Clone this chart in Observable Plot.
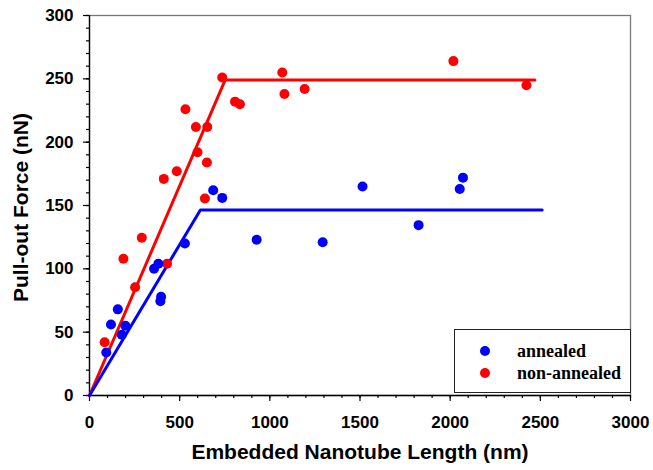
<!DOCTYPE html>
<html><head><meta charset="utf-8">
<script src="https://cdn.jsdelivr.net/npm/d3@7"></script>
<script src="https://cdn.jsdelivr.net/npm/@observablehq/plot@0.6"></script>
<style>
html,body{margin:0;padding:0;background:#fff;}
#wrap{position:relative;width:653px;height:470px;}
#legend{position:absolute;left:454px;top:329px;width:177px;height:64px;border:1px solid #222;background:#fff;box-sizing:border-box;font-family:"Liberation Serif",serif;font-weight:bold;font-size:18px;}
.row{position:absolute;left:0;display:flex;align-items:center;height:20px;line-height:20px;}
.dot{width:10px;height:10px;border-radius:50%;margin-left:25px;margin-right:27px;}
</style>
</head><body>
<div id="wrap"></div>
<script>
// Annealed (blue) points: length (nm), force (nN)
const annealedX = [93, 119, 157, 179, 199, 358, 382, 393, 397, 529, 686, 736, 927, 1293, 1514, 1825, 2053, 2071];
const annealedY = [34, 56, 68, 48, 55, 100, 104, 74.5, 78, 120, 162, 156, 123, 121, 165, 134.5, 163, 172];
// Non-annealed (red) points
const nonAnnealedX = [84, 188, 253, 290, 412, 430, 484, 532, 590, 599, 640, 651, 653, 736, 807, 834, 1069, 1081, 1193, 2018, 2423];
const nonAnnealedY = [42, 108, 85.5, 124.5, 171, 104, 177, 226, 212, 192, 155.5, 184, 212, 251, 232, 230, 255, 238, 242, 264, 245];
// Fitted bilinear lines
const annealedFitX = [0, 615, 2510];
const annealedFitY = [0, 146.5, 146.5];
const nonAnnealedFitX = [0, 752, 2470];
const nonAnnealedFitY = [0, 249, 249];
// Ticks
const xMajor = d3.range(0, 3001, 500);
const xMinor = d3.range(0, 3001, 100);
const yMajor = d3.range(0, 301, 50);
const yMinor = d3.range(0, 301, 10);
const seriesNames = ["annealed", "non-annealed"];
const seriesColors = ["#0000ff", "#ff0000"];

const pts = (xs, ys) => xs.map((x, i) => ({x, y: ys[i]}));
const blue = pts(annealedX, annealedY);
const red = pts(nonAnnealedX, nonAnnealedY);
const blueFit = pts(annealedFitX, annealedFitY);
const redFit = pts(nonAnnealedFitX, nonAnnealedFitY);

const font = "Liberation Sans, Arial, sans-serif";
const chart = Plot.plot({
  width: 653, height: 470,
  marginLeft: 89, marginRight: 23, marginTop: 15, marginBottom: 75,
  style: {fontFamily: font, background: "#fff"},
  x: {domain: [0, 3000]},
  y: {domain: [0, 300]},
  marks: [
    Plot.frame({stroke: "#777", strokeWidth: 1.3}),
    Plot.ruleX([0], {stroke: "#000", strokeWidth: 1.3}),
    Plot.ruleY([0], {stroke: "#000", strokeWidth: 1.3}),
    Plot.axisX({ticks: xMinor, tickSize: 3, tickFormat: () => "", label: null, strokeWidth: 1.2}),
    Plot.axisY({ticks: yMinor, tickSize: 3, tickFormat: () => "", label: null, strokeWidth: 1.2}),
    Plot.axisX({ticks: xMajor, tickSize: 6, tickPadding: 14, tickFormat: d => String(d), fontSize: 17, fontWeight: "bold", label: null, strokeWidth: 1.2}),
    Plot.axisY({ticks: yMajor, tickSize: 6, tickPadding: 10, tickFormat: d => String(d), fontSize: 17, fontWeight: "bold", label: null, strokeWidth: 1.2}),
    Plot.line(redFit, {x: "x", y: "y", stroke: seriesColors[1], strokeWidth: 3}),
    Plot.line(blueFit, {x: "x", y: "y", stroke: seriesColors[0], strokeWidth: 3}),
    Plot.dot(red, {x: "x", y: "y", r: 5, fill: seriesColors[1]}),
    Plot.dot(blue, {x: "x", y: "y", r: 5, fill: seriesColors[0]}),
    Plot.text(["Embedded Nanotube Length (nm)"], {frameAnchor: "bottom", dy: 63, fontSize: 21, fontWeight: "bold", fill: "#000"}),
    Plot.text(["Pull-out Force (nN)"], {frameAnchor: "left", textAnchor: "middle", dx: -68, dy: 2, rotate: -90, fontSize: 21, fontWeight: "bold", fill: "#000"})
  ]
});
const wrap = document.getElementById("wrap");
wrap.appendChild(chart);
const legend = document.createElement("div");
legend.id = "legend";
seriesNames.forEach((name, i) => {
  const row = document.createElement("div");
  row.className = "row";
  row.style.top = (i === 0 ? 11 : 33) + "px";
  const dot = document.createElement("span");
  dot.className = "dot";
  dot.style.background = seriesColors[i];
  const label = document.createElement("span");
  label.textContent = name;
  row.appendChild(dot); row.appendChild(label);
  legend.appendChild(row);
});
wrap.appendChild(legend);
</script>
</body></html>
